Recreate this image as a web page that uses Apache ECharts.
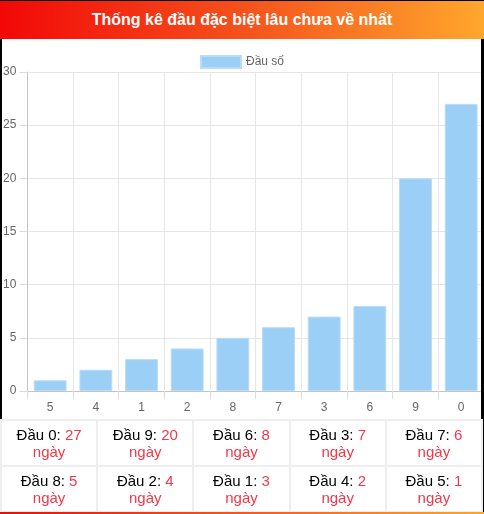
<!DOCTYPE html>
<html>
<head>
<meta charset="utf-8">
<script src="https://cdn.jsdelivr.net/npm/echarts@6/dist/echarts.min.js"></script>
<style>
    html, body { margin:0; padding:0; background:#fff; }
    body { width:484px; height:514px; position:relative; overflow:hidden; font-family:"Liberation Sans", Arial, sans-serif; }
    .box { position:absolute; left:0; top:0; width:484px; height:514px; box-sizing:border-box;
           border-top:1px solid #000; border-left:2px solid #000; border-right:3px solid #000; }
    .bottom-line { position:absolute; left:0; bottom:0; width:484px; height:2px;
                   background:linear-gradient(to right, #f00a0a, #ffa52b); }
    .title { position:absolute; left:0; top:1px; width:484px; height:38px; line-height:38px;
             background:linear-gradient(to right, #f20808, #f5511c 50%, #ffa72c);
             color:#fff; font-weight:bold; font-size:16px; text-align:center; }
    #main { position:absolute; left:0; top:40px; width:484px; height:380px; }
    table { position:absolute; left:0; top:419px; width:483px; height:94px; border-collapse:collapse; table-layout:fixed; }
    td { border:2px solid #eee; text-align:center; font-size:15px; line-height:17px; color:#000; padding:0; }
    td .num, td .day { color:#f2384b; }
</style>
</head>
<body>
<div id="main"></div>
<div class="box"></div>
<div class="title">Thống kê đầu đặc biệt lâu chưa về nhất</div>
<table id="tbl"></table>
<div class="bottom-line"></div>
<script>
    // dữ liệu
    let heads   = ["5", "4", "1", "2", "8", "7", "3", "6", "9", "0"];
    let days    = [1, 2, 3, 4, 5, 6, 7, 8, 20, 27];
    let yTicks  = [0, 5, 10, 15, 20, 25, 30];

    let myChart = echarts.init(document.getElementById('main'));
    myChart.setOption({
        animation:false,
        textStyle:{ fontFamily:"Liberation Sans, Arial, sans-serif" },
        legend:{
            top:10,
            left:"center",
            itemWidth:40,
            itemHeight:12,
            itemGap:10,
            icon:"rect",
            textStyle:{ color:"#666", fontSize:12 },
            data:["Đầu số"]
        },
        grid:{ left:26, right:0, top:32, bottom:29, containLabel:false },
        xAxis:{
            type:"category",
            data:heads,
            axisLine:{ lineStyle:{ color:"#c4c4c4" } },
            axisTick:{ show:true, length:8, lineStyle:{ color:"#dcdcdc" } },
            splitLine:{ show:true, lineStyle:{ color:"#e6e6e6" } },
            axisLabel:{ color:"#666", fontSize:12, margin:11 }
        },
        yAxis:{
            type:"value",
            min:yTicks[0],
            max:yTicks[yTicks.length - 1],
            interval:5,
            axisLine:{ show:true, lineStyle:{ color:"#c4c4c4" } },
            axisTick:{ show:true, length:8, lineStyle:{ color:"#dcdcdc" } },
            splitLine:{ lineStyle:{ color:"#e6e6e6" } },
            axisLabel:{ color:"#666", fontSize:12, margin:11 }
        },
        series:[{
            name:"Đầu số",
            type:"bar",
            data:days,
            barWidth:"72%",
            itemStyle:{ color:"#9ccff5", borderColor:"#b9ddf8", borderWidth:1 }
        }]
    });

    // bảng: sắp theo số ngày giảm dần
    let rows = [];
    for (let i = heads.length - 1; i >= 0; i--) {
        rows.push({ head:heads[i], day:days[i] });
    }
    let html = "";
    for (let r = 0; r < 2; r++) {
        html += "<tr>";
        for (let c = 0; c < 5; c++) {
            let it = rows[r * 5 + c];
            html += `<td>Đầu ${it.head}: <span class="num">${it.day}</span><br><span class="day">ngày</span></td>`;
        }
        html += "</tr>";
    }
    document.getElementById('tbl').innerHTML = html;
</script>
</body>
</html>
